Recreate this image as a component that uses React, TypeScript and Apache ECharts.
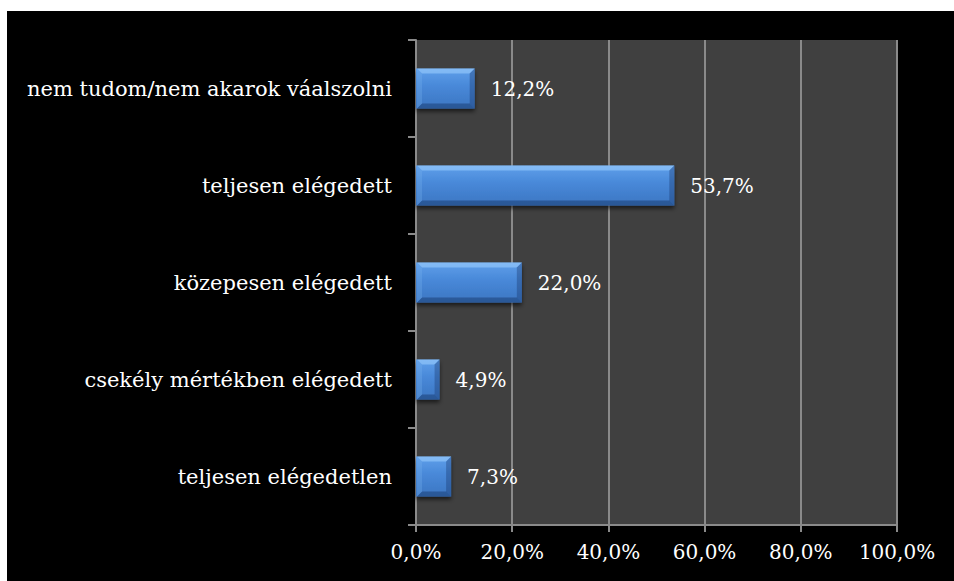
import React, { useEffect, useRef } from "react";
import * as echarts from "echarts";

const categories = [
  "teljesen elégedetlen",
  "csekély mértékben elégedett",
  "közepesen elégedett",
  "teljesen elégedett",
  "nem tudom/nem akarok váalszolni",
];
const values = [7.3, 4.9, 22.0, 53.7, 12.2];
const axisMin = 0;
const axisMax = 100;
const axisInterval = 20;

const FONT = "DejaVu Serif";
const fmt = (v: number) => v.toFixed(1).replace(".", ",") + "%";

export default function App() {
  const ref = useRef<HTMLDivElement>(null);
  useEffect(() => {
    if (!ref.current) return;
    const chart = echarts.init(ref.current, undefined, { renderer: "svg" });
    const BAR_H = 40;
    const B = 5;
    chart.setOption({
      animation: false,
      backgroundColor: "#000000",
      textStyle: { fontFamily: FONT },
      grid: {
        left: 409,
        top: 29,
        right: 57,
        bottom: 56,
        show: true,
        backgroundColor: "#404040",
        borderWidth: 0,
      },
      xAxis: {
        type: "value",
        min: axisMin,
        max: axisMax,
        interval: axisInterval,
        axisLine: { show: true, lineStyle: { color: "#8a8a8a", width: 2 } },
        axisTick: { show: true, length: 7, lineStyle: { color: "#8a8a8a", width: 2 } },
        splitLine: { show: true, lineStyle: { color: "#8a8a8a", width: 2 } },
        axisLabel: {
          color: "#ffffff",
          fontFamily: FONT,
          fontSize: 20,
          margin: 17,
          formatter: (v: number) => fmt(v),
        },
      },
      yAxis: {
        type: "category",
        data: categories,
        axisLine: { show: true, onZero: false, lineStyle: { color: "#8a8a8a", width: 2 } },
        axisTick: { show: true, length: 8, lineStyle: { color: "#8a8a8a", width: 2 } },
        splitLine: { show: false },
        axisLabel: {
          color: "#ffffff",
          fontFamily: FONT,
          fontSize: 21,
          margin: 24,
        },
      },
      series: [
        {
          type: "bar",
          data: values,
          barWidth: BAR_H,
          itemStyle: {
            color: new echarts.graphic.LinearGradient(0, 0, 0, 1, [
              { offset: 0, color: "#5f9fea" },
              { offset: 0.45, color: "#4888d8" },
              { offset: 1, color: "#3c76c2" },
            ]),
            shadowColor: "rgba(0,0,0,0.6)",
            shadowBlur: 4,
            shadowOffsetY: 3,
          },
          label: {
            show: true,
            position: "right",
            distance: 16,
            color: "#ffffff",
            fontFamily: FONT,
            fontSize: 20,
            formatter: (p: any) => fmt(p.value),
          },
          z: 2,
        },
        {
          type: "custom",
          data: values.map((v, i) => [v, i]),
          encode: { x: 0, y: 1 },
          silent: true,
          z: 3,
          renderItem: (params: any, api: any) => {
            const v = api.value(0);
            const c = api.value(1);
            const s = api.coord([0, c]);
            const e = api.coord([v, c]);
            const x0 = s[0] + 1;
            const x1 = e[0];
            const y0 = s[1] - BAR_H / 2;
            const y1 = s[1] + BAR_H / 2;
            return {
              type: "group",
              children: [
                {
                  type: "polygon",
                  shape: { points: [[x0, y0], [x1, y0], [x1 - B, y0 + B], [x0 + B, y0 + B]] },
                  style: { fill: "rgba(160,210,255,0.55)" },
                },
                {
                  type: "polygon",
                  shape: { points: [[x1, y0], [x1, y1], [x1 - B, y1 - B], [x1 - B, y0 + B]] },
                  style: { fill: "rgba(20,50,100,0.35)" },
                },
                {
                  type: "polygon",
                  shape: { points: [[x0, y1], [x1, y1], [x1 - B, y1 - B], [x0 + B, y1 - B]] },
                  style: { fill: "rgba(20,50,100,0.45)" },
                },
                {
                  type: "polygon",
                  shape: { points: [[x0, y0], [x0 + B, y0 + B], [x0 + B, y1 - B], [x0, y1]] },
                  style: { fill: "rgba(120,180,240,0.3)" },
                },
              ],
            };
          },
        },
      ],
    });
    return () => chart.dispose();
  }, []);
  return (
    <div
      style={{
        position: "absolute",
        left: 0,
        top: 0,
        width: 954,
        height: 581,
        background: "#ffffff",
      }}
    >
      <div
        ref={ref}
        style={{ position: "absolute", left: 7, top: 11, width: 947, height: 570 }}
      />
    </div>
  );
}
